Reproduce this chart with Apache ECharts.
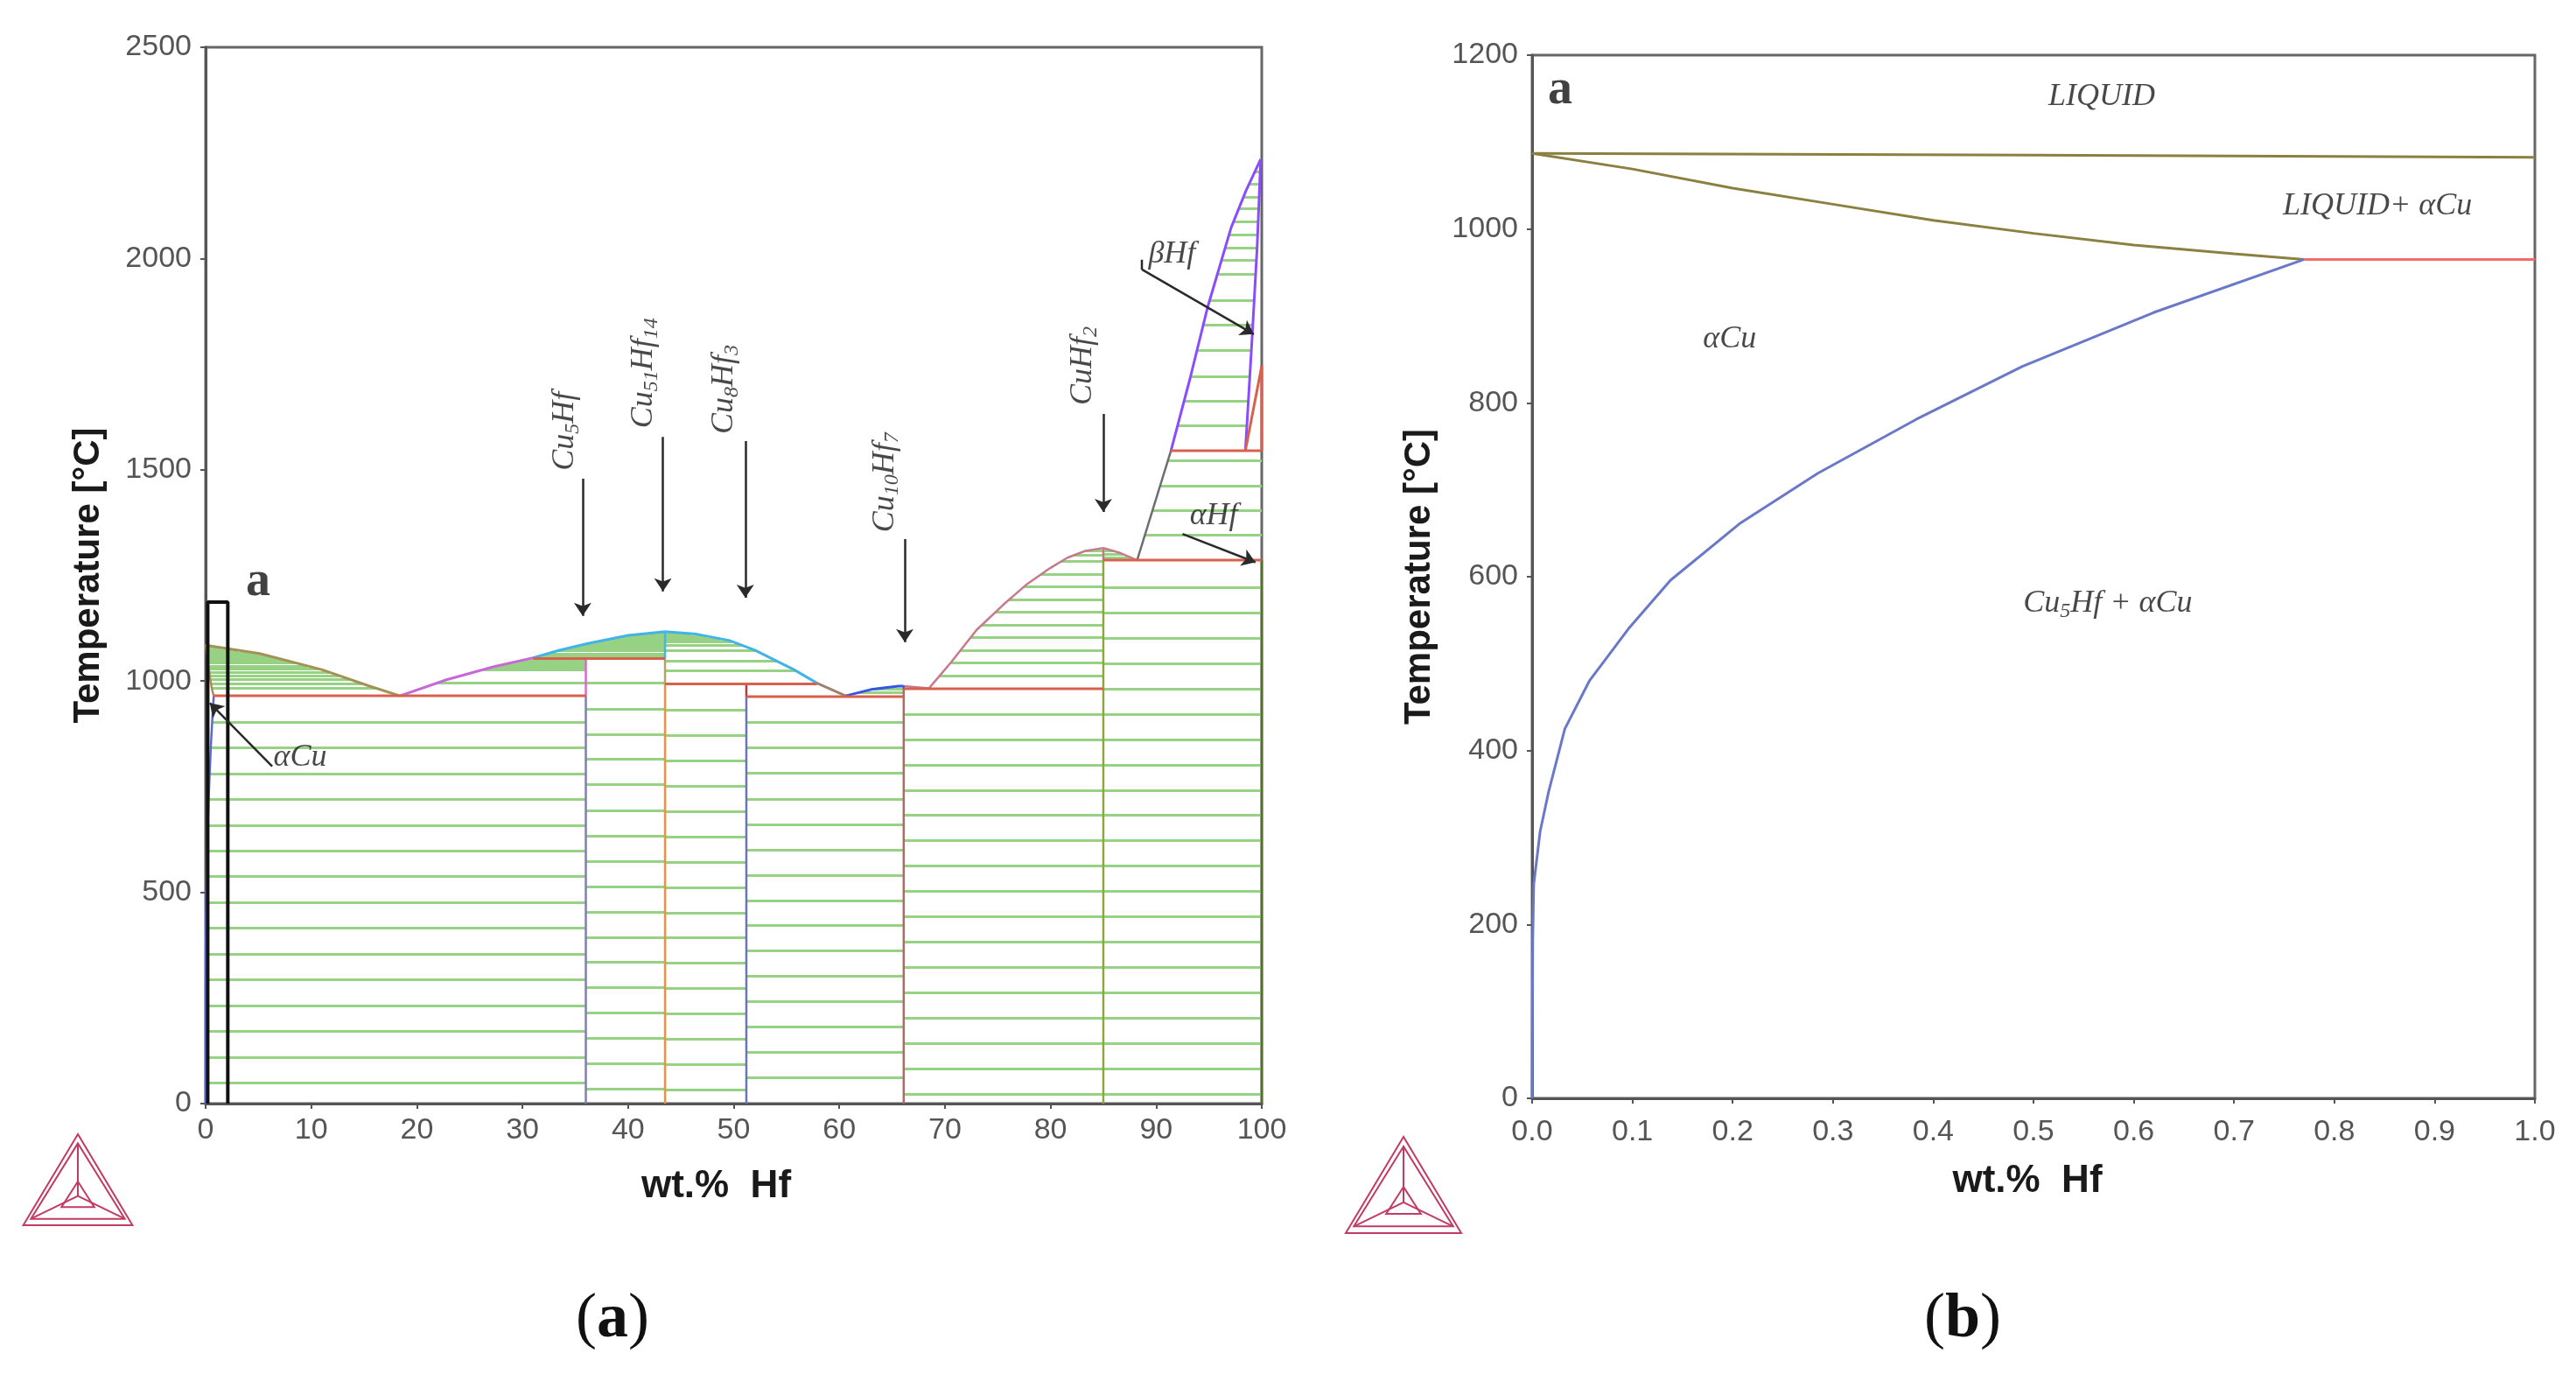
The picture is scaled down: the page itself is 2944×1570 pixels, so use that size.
<!DOCTYPE html>
<html>
<head>
<meta charset="utf-8">
<script src="https://cdn.jsdelivr.net/npm/echarts@6.0.0/dist/echarts.min.js"></script>
<style>
  html, body { margin: 0; padding: 0; background: #fff; }
  #main { width: 2944px; height: 1570px; }
</style>
</head>
<body>
<div id="main"></div>
<script>
// ---- panel (b): Cu-rich corner, 0-1 wt.% Hf ----
const cuLiquidus = [[0, 1087], [0.5, 1085], [1, 1082.5]];
const cuSolidus = [[0, 1087], [0.1, 1069], [0.2, 1047], [0.3, 1028.5], [0.4, 1010], [0.5, 995],
  [0.6, 981.5], [0.7, 971.5], [0.77, 965]];
const cuSolvus = [[0.77, 965], [0.62, 904], [0.489, 842], [0.383, 781], [0.285, 719], [0.208, 662],
  [0.138, 596], [0.096, 540], [0.057, 480], [0.0326, 425], [0.0163, 352], [0.008, 307],
  [0.0016, 246], [0.0006, 180], [0, 0]];
const eutecticB = [[0.77, 965], [1, 965]];

// ---- panel (a): full Cu-Hf diagram ----
const liqCu = [[0, 1085], [5.1, 1065], [11, 1027], [15.4, 989], [18.4, 965]];
const liqCu5Hf = [[18.4, 965], [22.8, 1003], [27.3, 1034], [31, 1055]];
const liqCu51Left = [[31, 1055], [33.5, 1073], [36.2, 1089], [40, 1108], [43.5, 1117]];
const liqCu51Right = [[43.5, 1117], [46.5, 1111], [49.6, 1096], [52, 1073], [53.7, 1052], [55.7, 1027], [57.9, 995]];
const liqCu8Hf3 = [[57.9, 995], [60.6, 965]];
const liqCu10Hf7 = [[60.6, 965], [63, 980], [65.6, 988], [66.1, 988]];
const liqCuHf2Left = [[66.1, 988], [68.5, 983], [70.6, 1045], [73, 1121], [75.5, 1180], [77.8, 1230],
  [80, 1268], [81.6, 1292], [83.3, 1308], [85, 1315]];
const liqCuHf2Right = [[85, 1315], [86.5, 1304], [88.2, 1286]];
const liqHfLow = [[88.2, 1286], [91.4, 1545]];
const liqBetaHf = [[91.4, 1545], [93.2, 1715], [94.9, 1887], [97.1, 2073], [98.5, 2160], [99.9, 2235]];
const solBetaHf = [[99.9, 2235], [99.56, 2025], [99.1, 1818], [98.45, 1545]];

const invariants = [
  [[0.77, 965], [36, 965]],
  [[31, 1053], [43.5, 1053]],
  [[43.5, 993], [57.9, 993]],
  [[51.2, 963], [66.1, 963]],
  [[66.1, 982], [85, 982]],
  [[85, 1286], [100, 1286]],
  [[91.4, 1545], [100, 1545]],
  [[98.45, 1545], [100, 1746]],
  [[100, 1545], [100, 1746]]
];

const compoundLines = [
  [[36, 0], [36, 965]], [[36, 965], [36, 1053]],
  [[43.5, 0], [43.5, 993]], [[43.5, 993], [43.5, 1053]], [[43.5, 1053], [43.5, 1117]],
  [[51.2, 0], [51.2, 963]], [[51.2, 963], [51.2, 993]],
  [[66.1, 0], [66.1, 982]], [[66.1, 982], [66.1, 988]],
  [[85, 0], [85, 1286]], [[85, 1286], [85, 1315]],
  [[100, 0], [100, 1286]]
];

// tie-line temperatures read per two-phase field
const tieLiqCu = [1079, 1073, 1067, 1061, 1055, 1049, 1043, 1036, 1029, 1021, 1013, 1004, 994, 983];
const tieLiqCu5Hf = [1050, 1046, 1042, 1037, 1032, 1027, 996];
const tieLiqCu51L = [1113, 1108, 1103, 1097, 1091, 1085, 1079, 1072, 1065, 1059];
const tieLiqCu51R = [1112, 1106, 1100, 1093, 1084, 1072, 1048, 1024];
const tieLiqCu10Hf7 = [981, 973];
const tieLiqCuHf2L = [1013, 1043, 1073, 1103, 1133, 1163, 1193, 1223, 1253, 1283, 1298, 1308];
const tieLiqCuHf2R = [1292, 1300, 1308];
const tieLiqHf = [1345, 1404, 1462, 1521];
const tieLiqBetaHf = [1604, 1662, 1721, 1782, 1842, 1901, 1963, 1997, 2025, 2056, 2087, 2118, 2146, 2177, 2205];
const tieCuCu5Hf = [903, 842, 781, 720, 659, 598, 537, 476, 415, 354, 293, 232, 171, 110, 49];
const tieCu5Cu51 = [996, 934, 874, 815, 755, 694, 634, 574, 514, 454, 394, 334, 274, 214, 154, 94, 34];
const tieCu51Cu8 = [932, 872, 812, 752, 692, 632, 572, 512, 452, 392, 332, 272, 212, 152, 92, 32];
const tieCu8Cu10 = [903, 842, 782, 721, 661, 601, 541, 481, 421, 361, 301, 241, 181, 121, 61];
const tieCu10CuHf2 = [922, 862, 802, 742, 682, 622, 562, 502, 442, 382, 322, 262, 202, 142, 82, 22];
const tieCuHf2Hf = [1222, 1162, 1102, 1042, 982, 922, 862, 802, 742, 682, 622, 562, 502, 442, 382, 322, 262, 202, 142, 82, 22];

// highlighted Cu corner (box "a")
const zoomBox = [[0.2, 0], [0.2, 1187], [2.1, 1187], [2.1, 0]];

const xTicksA = { min: 0, max: 100, interval: 10 };
const yTicksA = { min: 0, max: 2500, interval: 500 };
const xTicksB = { min: 0, max: 1, interval: 0.1 };
const yTicksB = { min: 0, max: 1200, interval: 200 };

// ---- styles ----
const SANS = 'Liberation Sans, Arial, sans-serif';
const SERIF = 'Liberation Serif, DejaVu Serif, serif';
const HATCH = '#96d184';
const RED = '#d8604c';
const compoundColors = ['#7f7fb0', '#d070c8', '#f39040', '#b4a468', '#45b5e3', '#6a76b4', '#b83838',
  '#b06a62', '#3a5ae0', '#8aa83c', '#c87888', '#55702a'];

const series = [];

function curve(gi, data, color, width) {
  series.push({
    type: 'line', xAxisIndex: gi, yAxisIndex: gi, data: data, showSymbol: false, symbol: 'none',
    lineStyle: { color: color, width: width || 3 }, z: 4, silent: true
  });
}

// x where a boundary reaches temperature t (boundary = fixed x or polyline)
function edge(b, t) {
  if (typeof b === 'number') return b;
  for (let i = 0; i < b.length - 1; i++) {
    const [x1, t1] = b[i], [x2, t2] = b[i + 1];
    if (t1 !== t2 && (t - t1) * (t - t2) <= 0) return x1 + (x2 - x1) * (t - t1) / (t2 - t1);
  }
  return null;
}

function hatch(temps, left, right) {
  const data = [];
  temps.forEach(function (t) {
    const a = edge(left, t), b = edge(right, t);
    if (a !== null && b !== null) data.push({ coords: [[a, t], [b, t]] });
  });
  series.push({
    type: 'lines', coordinateSystem: 'cartesian2d', xAxisIndex: 0, yAxisIndex: 0, data: data,
    lineStyle: { color: HATCH, width: 3, opacity: 1 }, z: 2, silent: true
  });
}

hatch(tieLiqCu, cuSolidus, liqCu);
hatch(tieLiqCu5Hf, liqCu5Hf, 36);
hatch(tieLiqCu51L, liqCu51Left, 43.5);
hatch(tieLiqCu51R, 43.5, liqCu51Right);
hatch(tieLiqCu10Hf7, liqCu10Hf7, 66.1);
hatch(tieLiqCuHf2L, liqCuHf2Left, 85);
hatch(tieLiqCuHf2R, 85, liqCuHf2Right);
hatch(tieLiqHf, liqHfLow, 100);
hatch(tieLiqBetaHf, liqBetaHf, solBetaHf);
hatch(tieCuCu5Hf, cuSolvus, 36);
hatch(tieCu5Cu51, 36, 43.5);
hatch(tieCu51Cu8, 43.5, 51.2);
hatch(tieCu8Cu10, 51.2, 66.1);
hatch(tieCu10CuHf2, 66.1, 85);
hatch(tieCuHf2Hf, 85, 100);

// panel (a) boundaries
curve(0, cuSolidus, '#a39256', 2.5);
curve(0, cuSolvus, '#5a6ad0', 2.5);
curve(0, liqCu, '#a39256');
curve(0, liqCu5Hf, '#c868d8');
curve(0, liqCu51Left, '#40b4e6');
curve(0, liqCu51Right, '#40b4e6');
curve(0, liqCu8Hf3, '#a08070');
curve(0, liqCu10Hf7, '#3456e6');
curve(0, liqCuHf2Left, '#c77a8a', 2.5);
curve(0, liqCuHf2Right, '#c77a8a', 2.5);
curve(0, liqHfLow, '#6e6e6e', 2.5);
curve(0, liqBetaHf, '#8a4cff');
curve(0, solBetaHf, '#8a4cff');
compoundLines.forEach(function (l, i) { curve(0, l, compoundColors[i], 2.5); });
invariants.forEach(function (l) { curve(0, l, RED, 3); });
curve(0, zoomBox, '#111', 4);

// panel (b) boundaries
curve(1, cuLiquidus, '#8c8040', 3);
curve(1, cuSolidus, '#8c8040', 3);
curve(1, cuSolvus, '#6a78c8', 3);
curve(1, eutecticB, '#f26a6a', 3);

// annotation arrows in panel (a)
const arrows = [
  [[35.7, 1479], [35.7, 1154]],
  [[43.3, 1578], [43.3, 1212]],
  [[51.1, 1568], [51.1, 1197]],
  [[66.2, 1336], [66.2, 1092]],
  [[85.0, 1632], [85.0, 1400]],
  [[88.65, 1974], [99.25, 1821]],
  [[92.5, 1348], [99.4, 1281]],
  [[6.3, 798], [0.4, 948]]
];
series.push({
  type: 'lines', coordinateSystem: 'cartesian2d', xAxisIndex: 0, yAxisIndex: 0,
  symbol: ['none', 'arrow'], symbolSize: 15,
  lineStyle: { color: '#2a2a2a', width: 2.5, opacity: 1 }, z: 6, silent: true,
  data: arrows.map(function (a) { return { coords: a }; })
});
curve(0, [[88.65, 1997], [88.65, 1974]], '#2a2a2a', 2.5);

const rich = {
  it: { fontFamily: SERIF, fontStyle: 'italic', fontSize: 36, color: '#1a1a1a', lineHeight: 42 },
  sb: { fontFamily: SERIF, fontStyle: 'italic', fontSize: 24, color: '#1a1a1a', lineHeight: 16, verticalAlign: 'bottom' },
  bd: { fontFamily: SERIF, fontWeight: 'bold', fontSize: 56, color: '#111' }
};

function tag(x, y, text, rotate) {
  return { value: [x, y], label: { formatter: text, rotate: rotate || 0 } };
}

function tags(gi, data) {
  series.push({
    type: 'scatter', xAxisIndex: gi, yAxisIndex: gi, symbolSize: 1,
    itemStyle: { color: 'rgba(0,0,0,0)' }, z: 10, silent: true,
    label: { show: true, position: 'inside', rich: rich }, data: data
  });
}

tags(0, [
  tag(4.97, 1234, '{bd|a}'),
  tag(34.05, 1591, '{it|Cu}{sb|5}{it|Hf}', 90),
  tag(41.5, 1729, '{it|Cu}{sb|51}{it|Hf}{sb|14}', 90),
  tag(49.1, 1690, '{it|Cu}{sb|8}{it|Hf}{sb|3}', 90),
  tag(64.3, 1470, '{it|Cu}{sb|10}{it|Hf}{sb|7}', 90),
  tag(83.1, 1746, '{it|CuHf}{sb|2}', 90),
  tag(91.5, 2011, '{it|βHf}'),
  tag(95.45, 1390, '{it|αHf}'),
  tag(8.95, 820, '{it|αCu}')
]);
tags(1, [
  tag(0.028, 1159, '{bd|a}'),
  tag(0.568, 1152, '{it|LIQUID}'),
  tag(0.843, 1026, '{it|LIQUID+ αCu}'),
  tag(0.197, 873, '{it|αCu}'),
  tag(0.574, 569, '{it|Cu}{sb|5}{it|Hf + αCu}')
]);

function xAxis(gi, ticks, fmt, margin) {
  return Object.assign({
    gridIndex: gi, type: 'value', name: 'wt.%  Hf', nameLocation: 'middle', nameGap: 73,
    nameTextStyle: { fontFamily: SANS, fontWeight: 'bold', fontSize: 44, color: '#1a1a1a', padding: gi === 0 ? [0, 40, 0, 0] : [0, 14, 0, 0] },
    axisLine: { onZero: false, lineStyle: { color: '#555', width: 3 } },
    axisTick: { length: 6, lineStyle: { color: '#555', width: 2 } },
    axisLabel: { fontFamily: SANS, fontSize: 34, color: '#555', margin: margin, formatter: fmt },
    splitLine: { show: false }
  }, ticks);
}

function yAxis(gi, ticks, gap) {
  return Object.assign({
    gridIndex: gi, type: 'value', name: 'Temperature [°C]', nameLocation: 'middle', nameGap: gap,
    nameTextStyle: { fontFamily: SANS, fontWeight: 'bold', fontSize: 42, color: '#1a1a1a' },
    axisLine: { onZero: false, lineStyle: { color: '#555', width: 3 } },
    axisTick: { length: 6, lineStyle: { color: '#555', width: 2 } },
    axisLabel: { fontFamily: SANS, fontSize: 34, color: '#555', margin: 16, formatter: function (v) { return String(v); } },
    splitLine: { show: false }
  }, ticks);
}

function logo(cx, top, h) {
  const w = h * 0.6;
  const p = function (dx, dy) { return [cx + dx * w, top + dy * h]; };
  const st = { stroke: '#c23b62', fill: 'none', lineWidth: 2 };
  return [
    { type: 'polygon', shape: { points: [p(0, 0), p(-1, 1), p(1, 1)] }, style: st },
    { type: 'polygon', shape: { points: [p(0, 0.1), p(-0.86, 0.93), p(0.86, 0.93)] }, style: st },
    { type: 'polyline', shape: { points: [p(0, 0.1), p(0, 0.68)] }, style: st },
    { type: 'polyline', shape: { points: [p(-0.86, 0.93), p(0, 0.68), p(0.86, 0.93)] }, style: st },
    { type: 'polygon', shape: { points: [p(0, 0.52), p(-0.3, 0.8), p(0.3, 0.8)] }, style: st }
  ];
}

function caption(x, letter) {
  return {
    type: 'text', x: x, y: 1508,
    style: {
      text: '{pr|(}{lt|' + letter + '}{pr|)}', align: 'center', verticalAlign: 'middle',
      rich: {
        pr: { fontFamily: SERIF, fontSize: 72, fill: '#111' },
        lt: { fontFamily: SERIF, fontSize: 72, fontWeight: 'bold', fill: '#111' }
      }
    }
  };
}

const chart = echarts.init(document.getElementById('main'));
chart.setOption({
  animation: false,
  backgroundColor: '#fff',
  grid: [
    { left: 235, top: 54, width: 1207, height: 1207, show: true, borderColor: '#666', borderWidth: 3 },
    { left: 1751, top: 63, width: 1146, height: 1192, show: true, borderColor: '#666', borderWidth: 3 }
  ],
  xAxis: [
    xAxis(0, xTicksA, function (v) { return String(v); }, 14),
    xAxis(1, xTicksB, function (v) { return v.toFixed(1); }, 22)
  ],
  yAxis: [
    yAxis(0, yTicksA, 113),
    yAxis(1, yTicksB, 108)
  ],
  graphic: logo(89, 1296, 104).concat(logo(1604, 1299, 110)).concat([caption(700, 'a'), caption(2243, 'b')]),
  series: series
});
</script>
</body>
</html>
